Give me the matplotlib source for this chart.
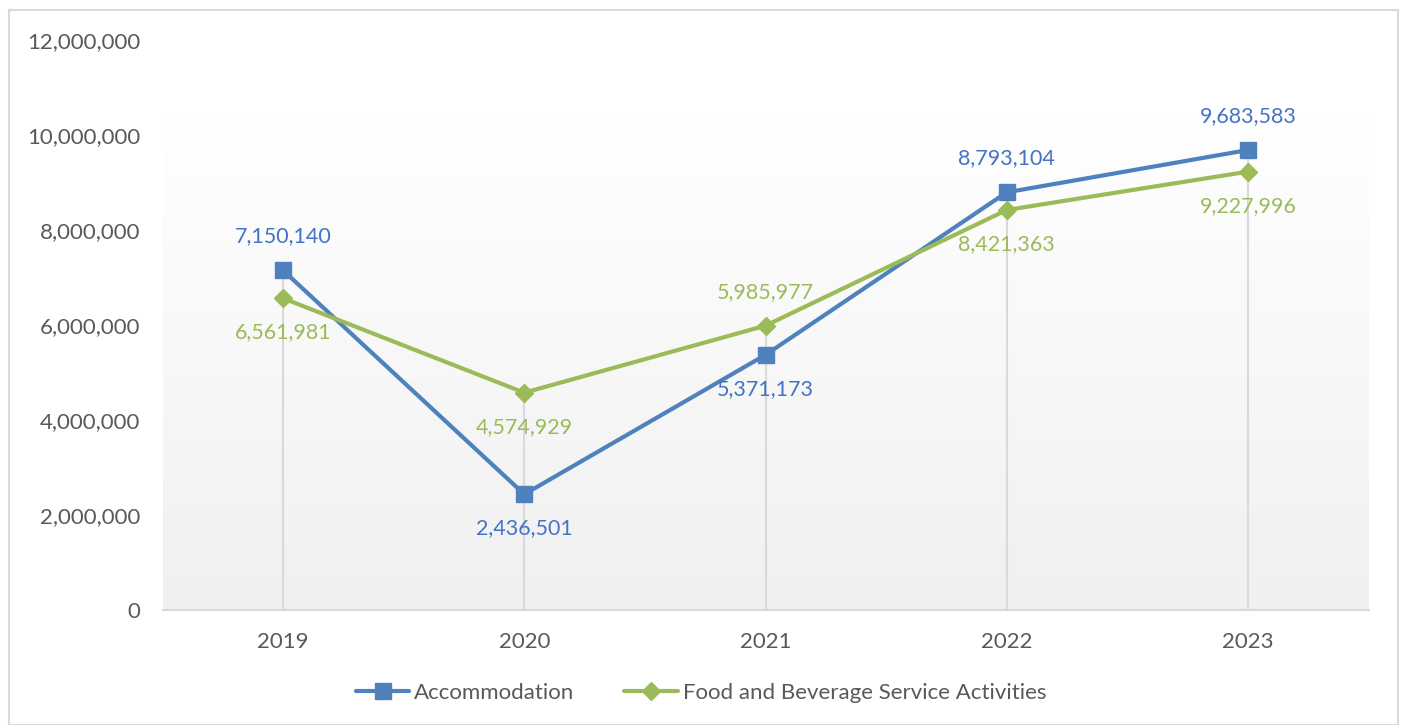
import matplotlib
matplotlib.use("Agg")
import matplotlib.pyplot as plt
import numpy as np
from matplotlib.ticker import FuncFormatter
from matplotlib.patches import Rectangle

years = ["2019", "2020", "2021", "2022", "2023"]
accommodation = [7150140, 2436501, 5371173, 8793104, 9683583]
food_bev = [6561981, 4574929, 5985977, 8421363, 9227996]
acc_label_pos = ["above", "below", "below", "above", "above"]
fb_label_pos = ["below", "below", "above", "below", "below"]

BLUE = "#4f81bd"
GREEN = "#9bbb59"
BLUE_TXT = "#4472c4"
GREEN_TXT = "#9bbb59"
GRAY_TXT = "#595959"
FONT = "Lato"

plt.rcParams['font.family'] = [FONT, 'DejaVu Sans']

fig = plt.figure(figsize=(14.02, 7.25), dpi=100)
fig.patch.set_facecolor("white")
# outer border
fig.add_artist(Rectangle((9/1402, 0.0), (1398-9)/1402, (725-10)/725, transform=fig.transFigure,
                         fill=False, edgecolor="#d9d9d9", linewidth=1.5))

ax = fig.add_axes([162.5/1402, (725-610)/725, (1368.5-162.5)/1402, (610-40)/725])
x = np.arange(len(years))

# gradient background
grad = np.linspace(0, 1, 256).reshape(-1, 1)
top_c = np.array([1.0, 1.0, 1.0])
bot_c = np.array([0xf0, 0xf0, 0xf0]) / 255.0
img = top_c[None, None, :] * (1 - grad[:, :, None]) + bot_c[None, None, :] * grad[:, :, None]
ax.imshow(img, extent=[-0.5, len(years) - 0.5, 0, 10420000], aspect="auto", zorder=0, origin="upper")
ax.set_xlim(-0.5, len(years) - 0.5)
ax.set_ylim(0, 12000000)

# drop lines
for i in x:
    top = max(accommodation[i], food_bev[i])
    ax.plot([i, i], [0, top], color="#d9d9d9", linewidth=1.5, zorder=1)

ax.plot(x, accommodation, color=BLUE, linewidth=3, marker="s", markersize=12, zorder=3,
        label="Accommodation", solid_capstyle="round")
ax.plot(x, food_bev, color=GREEN, linewidth=3, marker="D", markersize=9, zorder=4,
        label="Food and Beverage Service Activities", solid_capstyle="round")

def add_labels(vals, pos, color):
    for i, (v, p) in enumerate(zip(vals, pos)):
        off = 34 if p == "above" else -34
        ax.annotate(f"{v:,}", (i, v), xytext=(0, off), textcoords="offset pixels",
                    ha="center", va="center", fontsize=15.5, color=color, zorder=5)

add_labels(accommodation, acc_label_pos, BLUE_TXT)
add_labels(food_bev, fb_label_pos, GREEN_TXT)

ax.set_xticks(x)
ax.set_xticklabels(years)
ax.set_yticks(np.arange(0, 12000001, 2000000))
ax.yaxis.set_major_formatter(FuncFormatter(lambda v, p: f"{int(v):,}"))
ax.tick_params(axis="both", length=0, labelsize=16, labelcolor=GRAY_TXT)
ax.tick_params(axis="x", pad=16)
ax.tick_params(axis="y", pad=16)
for s in ["top", "right", "left"]:
    ax.spines[s].set_visible(False)
ax.spines["bottom"].set_color("#d9d9d9")
ax.spines["bottom"].set_linewidth(1.5)
ax.set_facecolor("white")

leg = fig.legend(loc="center", bbox_to_anchor=(0.5, (725-693)/725), ncol=2, frameon=False,
                 fontsize=16, labelcolor=GRAY_TXT, handlelength=2.4, columnspacing=2.25,
                 handletextpad=0.22)

fig.savefig("out.png", dpi=100)
